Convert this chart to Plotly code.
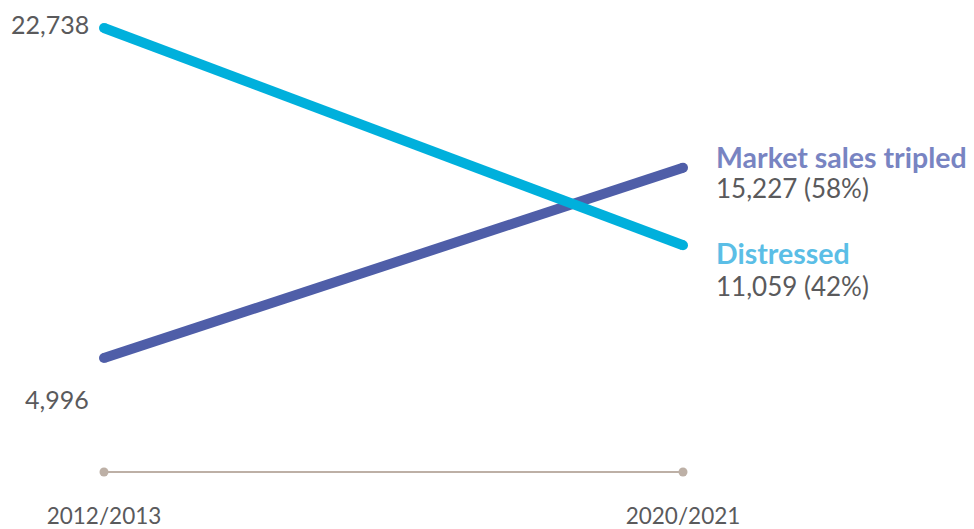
import plotly.graph_objects as go

periods = ["2012/2013", "2020/2021"]
distressed = [22738, 11059]
market = [4996, 15227]
distressed_label = "Distressed"
market_label = "Market sales tripled"
distressed_share = "42%"
market_share = "58%"

C_DIST = "#00b0dc"
C_MKT = "#4f5ea8"
C_DIST_TXT = "#5bbee6"
C_MKT_TXT = "#7884c2"
C_TXT = "#5a5a5c"
C_BASE = "#bdb0a6"
FONT = "Lato"

fig = go.Figure()
for vals, col in [(market, C_MKT), (distressed, C_DIST)]:
    fig.add_trace(go.Scatter(
        x=periods, y=vals, mode="lines+markers",
        line=dict(color=col, width=10),
        marker=dict(color=col, size=10),
        cliponaxis=False, hoverinfo="skip", showlegend=False))

def fmt(v):
    return f"{v:,}"

ann = []
# left start values
ann.append(dict(x=periods[0], y=distressed[0], text=fmt(distressed[0]), showarrow=False,
                xanchor="right", yanchor="middle", xshift=-13, yshift=4,
                font=dict(size=25, color=C_TXT, family=FONT)))
ann.append(dict(x=periods[0], y=market[0], text=fmt(market[0]), showarrow=False,
                xanchor="right", yanchor="middle", xshift=-13, yshift=-41,
                font=dict(size=25, color=C_TXT, family=FONT)))
# right end labels
for vals, lab, share, col, ys in [(market, market_label, market_share, C_MKT_TXT, (11, -20)),
                                  (distressed, distressed_label, distressed_share, C_DIST_TXT, (-8, -41))]:
    ann.append(dict(x=periods[1], y=vals[1], text=f"<b>{lab}</b>", showarrow=False,
                    xanchor="left", yanchor="middle", xshift=31, yshift=ys[0],
                    font=dict(size=28.5, color=col, family=FONT)))
    ann.append(dict(x=periods[1], y=vals[1], text=f"{fmt(vals[1])} ({share})", showarrow=False,
                    xanchor="left", yanchor="middle", xshift=31, yshift=ys[1],
                    font=dict(size=26, color=C_TXT, family=FONT)))

base_y = 0.0213
shapes = [dict(type="line", xref="x", yref="paper", x0=0, x1=1, y0=base_y, y1=base_y,
               line=dict(color=C_BASE, width=2), layer="below")]
for i in range(len(periods)):
    shapes.append(dict(type="circle", xref="x", yref="paper", xsizemode="pixel", ysizemode="pixel",
                       xanchor=i, yanchor=base_y, x0=-4.5, x1=4.5, y0=-4.5, y1=4.5,
                       fillcolor=C_BASE, line=dict(width=0)))

fig.update_layout(
    width=974, height=529,
    margin=dict(l=0, r=0, t=4, b=55),
    paper_bgcolor="white", plot_bgcolor="white",
    annotations=ann, shapes=shapes,
    xaxis=dict(type="category", range=[-0.1658, 1.5164], showgrid=False, zeroline=False,
               showline=False, ticks="", tickfont=dict(size=22.5, color=C_TXT, family=FONT),
               ticklabelstandoff=18),
    yaxis=dict(range=[-1669, 23598], visible=False),
)

fig.write_html("out.html")
